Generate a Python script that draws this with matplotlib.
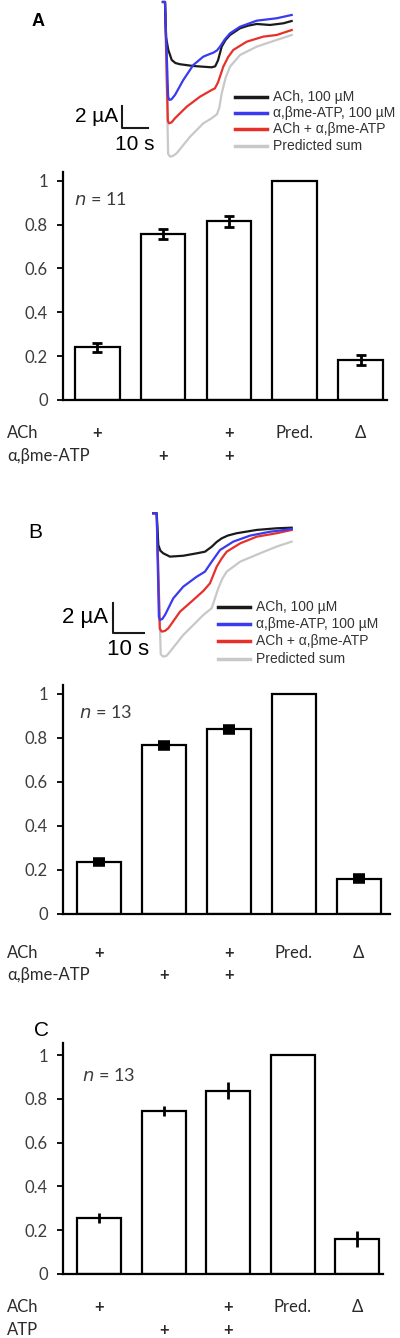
import matplotlib.pyplot as plt
from matplotlib.lines import Line2D
from matplotlib.transforms import blended_transform_factory

plt.rcParams['font.family'] = ['Lato', 'DejaVu Sans']

# bar data (normalised to predicted sum)
a_vals = [0.240, 0.757, 0.815, 1.0, 0.182]
a_err = [0.021, 0.021, 0.024, 0.0, 0.024]
b_vals = [0.236, 0.766, 0.838, 1.0, 0.161]
b_err = [0.010, 0.010, 0.010, 0.0, 0.010]
c_vals = [0.254, 0.746, 0.837, 1.0, 0.160]
c_err = [0.023, 0.023, 0.038, 0.0, 0.038]

ach_marks = ['+', '', '+', 'Pred.', 'Δ']
atp_marks = ['', '+', '+', '', '']
yticks = [0, 0.2, 0.4, 0.6, 0.8, 1]
yticklabels = ['0', '0.2', '0.4', '0.6', '0.8', '1']

# current traces (time in s, current in uA)
a_black_t = [-0.8, 0, 0.4, 1.27, 2.58, 4.0, 5.77, 10.9, 17.96, 19.3, 20.4, 21.8, 23.3, 25, 28.85, 32.0, 35.27, 40.4, 45.5, 48.7]
a_black_i = [0, 0, -3.2, -4.36, -5.27, -5.55, -5.66, -5.82, -5.94, -5.85, -5.3, -4.06, -3.45, -3.0, -2.39, -2.15, -2.0, -2.09, -1.94, -1.73]
a_blue_t = [-0.8, 0, 1.2, 1.65, 2.5, 3.85, 7.04, 10.88, 14.73, 17.0, 18.58, 20.0, 21.15, 23.0, 25, 28.85, 35.27, 42.96, 48.73]
a_blue_i = [0, 0, -8.6, -8.9, -8.85, -8.45, -7.09, -5.73, -4.97, -4.75, -4.61, -4.4, -4.06, -3.4, -2.85, -2.25, -1.7, -1.48, -1.18]
a_red_t = [-0.8, 0, 1.1, 1.54, 2.5, 3.85, 8.35, 13.46, 17.96, 19.2, 20.4, 22.42, 24.3, 26.27, 31.42, 37.8, 42.96, 48.73]
a_red_i = [0, 0, -10.8, -11.03, -10.95, -10.57, -9.52, -8.61, -8.0, -7.85, -7.3, -5.88, -5.0, -4.36, -3.61, -3.15, -3.0, -2.55]
a_gray_t = [0, 1.2, 1.92, 3.0, 4.5, 9.62, 14.73, 17.96, 20.0, 20.9, 21.8, 23.3, 25, 28.85, 35.27, 42.96, 48.73]
a_gray_i = [0, -13.8, -14.06, -14.0, -13.75, -12.25, -11.03, -10.57, -10.2, -9.6, -8.3, -6.9, -5.88, -4.82, -4.06, -3.45, -3.0]

b_black_t = [-1.1, 0, 0.52, 1.2, 2.13, 4.29, 8.58, 12.9, 15.58, 17.74, 19.3, 20.97, 23.0, 25.8, 32.26, 38.7, 43.55]
b_black_i = [0, 0, -2.11, -2.5, -2.67, -2.89, -2.83, -2.67, -2.56, -2.23, -1.92, -1.67, -1.48, -1.33, -1.11, -1.0, -0.96]
b_blue_t = [-1.1, 0, 0.7, 1.06, 1.8, 2.68, 5.35, 8.58, 12.9, 15.58, 17.74, 20.42, 24.71, 30.1, 36.55, 43.55]
b_blue_i = [0, 0, -6.9, -7.11, -7.05, -6.78, -5.67, -4.89, -4.23, -3.89, -3.23, -2.45, -1.89, -1.49, -1.23, -1.05]
b_red_t = [-1.1, 0, 1.0, 1.61, 2.6, 3.74, 7.52, 11.8, 15.03, 17.19, 19.35, 21.0, 22.58, 26.97, 32.26, 38.7, 43.55]
b_red_i = [0, 0, -7.7, -7.89, -7.85, -7.67, -6.56, -5.78, -5.18, -4.67, -3.56, -3.0, -2.56, -2.0, -1.56, -1.33, -1.11]
b_gray_t = [0, 1.3, 2.13, 3.2, 4.29, 8.58, 12.9, 15.03, 17.74, 19.87, 21.2, 22.58, 26.97, 33.32, 38.7, 43.55]
b_gray_i = [0, -9.4, -9.56, -9.5, -9.23, -8.11, -7.23, -6.78, -6.33, -5.0, -4.35, -3.89, -3.22, -2.67, -2.22, -1.89]

legend_labels = ['ACh, 100 µM', 'α,βme-ATP, 100 µM', 'ACh + α,βme-ATP', 'Predicted sum']
trace_colors = ['#1a1a1a', '#3a3af0', '#e8302a', '#c8c8c8']

W, H = 400, 1338
fig = plt.figure(figsize=(4, 13.38), dpi=100)
txt_col = '#3c3c3c'
sans = ['Liberation Sans', 'DejaVu Sans']


def px_axes(x0, y0, x1, y1):
    return fig.add_axes([x0 / W, 1 - y1 / H, (x1 - x0) / W, (y1 - y0) / H])


def trace_panel(box, xlim, ylim, traces, bar, legend_x, legend_ys, fs):
    ax = px_axes(*box)
    ax.set_xlim(xlim)
    ax.set_ylim(ylim)
    ax.axis('off')
    # draw gray, red, black, blue
    for idx in [3, 2, 0, 1]:
        t, i = traces[idx]
        ax.plot(t, i, color=trace_colors[idx], lw=1.6, solid_joinstyle='round')
    bx, by, dt, di = bar['x'], bar['y'], 10, 2
    ax.plot([bx, bx, bx + dt], [by + di, by, by], color='#1a1a1a', lw=1.5)
    ax.text(bx - 1.5, by + 1.0, '2 µA', ha='right', va='center', fontsize=fs, family=sans)
    ax.text(bx + 5, by - 1.5 * (ylim[1] - ylim[0]) / 15, '10 s', ha='center', va='center',
            fontsize=fs, family=sans)
    for k, yy in enumerate(legend_ys):
        fig.add_artist(Line2D([legend_x / W, (legend_x + 32) / W], [1 - yy / H, 1 - yy / H],
                              color=trace_colors[k], lw=2.5, transform=fig.transFigure))
        fig.text((legend_x + 38) / W, 1 - yy / H, legend_labels[k], ha='left', va='center',
                 fontsize=10, color='#333333', family=sans)


def bar_panel(box, xlim, ylim, vals, err, capsize, capthick, nlabel, npos, rows, row_ys):
    ax = px_axes(*box)
    x = list(range(len(vals)))
    ax.bar(x, vals, width=0.68, color='white', edgecolor='black', linewidth=1.6, zorder=2)
    ax.errorbar([xx for xx, e in zip(x, err) if e > 0], [v for v, e in zip(vals, err) if e > 0],
                yerr=[e for e in err if e > 0], fmt='none', ecolor='black', elinewidth=2,
                capsize=capsize, capthick=capthick, zorder=3)
    ax.set_xlim(xlim)
    ax.set_ylim(ylim)
    for s in ['top', 'right']:
        ax.spines[s].set_visible(False)
    ax.spines['left'].set_linewidth(1.6)
    ax.spines['bottom'].set_linewidth(1.6)
    ax.set_xticks([])
    ax.set_yticks(yticks)
    ax.set_yticklabels(yticklabels)
    ax.tick_params(axis='y', length=4, width=1.3, pad=7, labelsize=12, labelcolor=txt_col)
    ax.text(npos[0], npos[1], r'$\it{n}$ = ' + nlabel, transform=ax.transAxes,
            fontsize=13, color=txt_col, ha='left', va='center')
    tr = blended_transform_factory(ax.transData, fig.transFigure)
    for (name, marks), yy in zip(rows, row_ys):
        fig.text(7 / W, 1 - yy / H, name, ha='left', va='center', fontsize=12, color='#2a2a2a')
        for xx, m in zip(x, marks):
            if m:
                ax.text(xx, 1 - yy / H, m, transform=tr, ha='center', va='center',
                        fontsize=12, color='#2a2a2a',
                        fontweight='bold' if m == '+' else 'normal')
    return ax


# Panel A
fig.text(32 / W, 1 - 21 / H, 'A', fontsize=13, fontweight='bold', va='center', family=sans)
trace_panel((100, 0, 300, 165), (-25, 51.92), (-14.82, 0.18),
            [(a_black_t, a_black_i), (a_blue_t, a_blue_i), (a_red_t, a_red_i), (a_gray_t, a_gray_i)],
            {'x': -16.5, 'y': -11.45}, 235, [97, 113, 129, 146], 15)
bar_panel((63, 172, 387, 400), (-0.52, 4.4), (0, 1.04), a_vals, a_err, 3.5, 2,
          '11', (0.035, 0.88), [('ACh', ach_marks), ('α,βme-ATP', atp_marks)], [433, 456])

# Panel B
fig.text(28 / W, 1 - 532 / H, 'B', fontsize=15, va='center', family=sans)
trace_panel((100, 505, 300, 670), (-18.29, 46.23), (-10.45, 0.553),
            [(b_black_t, b_black_i), (b_blue_t, b_blue_i), (b_red_t, b_red_i), (b_gray_t, b_gray_i)],
            {'x': -14.1, 'y': -7.98}, 218, [607, 624, 641, 659], 16)
bar_panel((63, 685, 390, 914), (-0.55, 4.48), (0, 1.04), b_vals, b_err, 4, 4,
          '13', (0.05, 0.88), [('ACh', ach_marks), ('α,βme-ATP', atp_marks)], [953, 975])

# Panel C
fig.text(34 / W, 1 - 1030 / H, 'C', fontsize=15, va='center', family=sans)
bar_panel((63, 1043, 383, 1274), (-0.56, 4.4), (0, 1.055), c_vals, c_err, 0, 0,
          '13', (0.06, 0.86), [('ACh', ach_marks), ('ATP', atp_marks)], [1307, 1330])

fig.savefig('out.png', dpi=100)
